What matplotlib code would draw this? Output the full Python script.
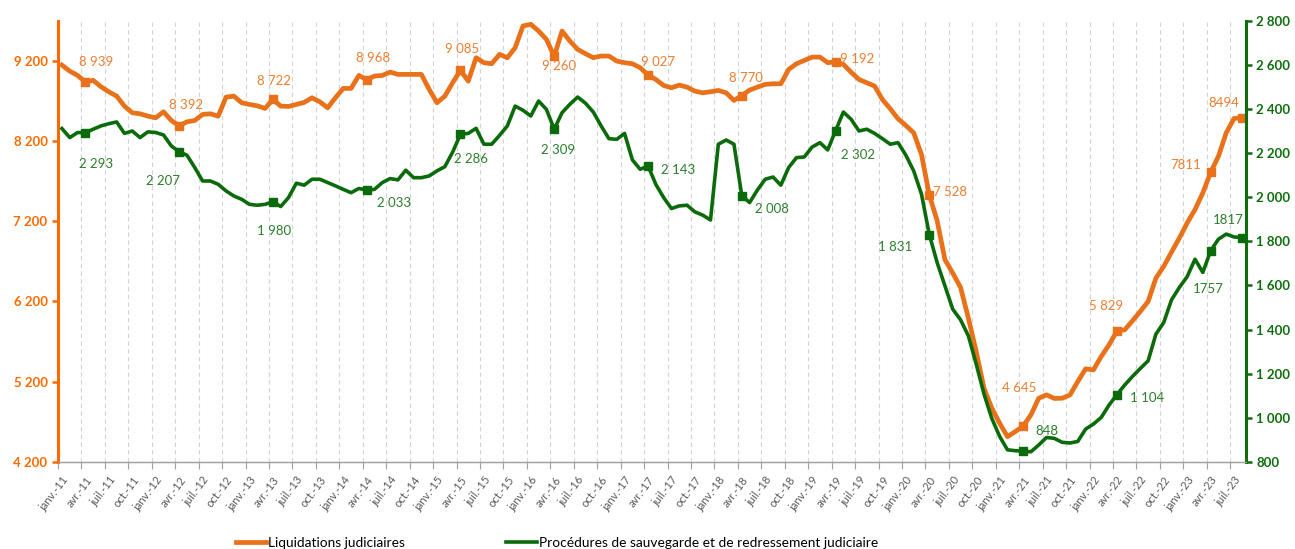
import numpy as np
import matplotlib
matplotlib.use('Agg')
import matplotlib.pyplot as plt
from matplotlib.ticker import FuncFormatter

plt.rcParams['font.family'] = ['Lato', 'DejaVu Sans']

# monthly series, janv.-11 to août-23
liquidations = [
    9150, 9075, 9021, 8939, 8960, 8880, 8817, 8763, 8638, 8555,
    8542, 8513, 8492, 8567, 8459, 8392, 8442, 8459, 8534, 8542,
    8513, 8750, 8763, 8680, 8659, 8642, 8609, 8722, 8638, 8634,
    8659, 8684, 8742, 8692, 8617, 8742, 8859, 8859, 9021, 8968,
    9013, 9021, 9063, 9034, 9034, 9034, 9034, 8846, 8680, 8763,
    8930, 9085, 8950, 9242, 9180, 9167, 9284, 9242, 9367, 9638,
    9659, 9575, 9471, 9260, 9575, 9450, 9346, 9292, 9242, 9263,
    9263, 9200, 9180, 9167, 9117, 9027, 8971, 8896, 8867, 8900,
    8875, 8825, 8804, 8817, 8834, 8804, 8709, 8770, 8838, 8875,
    8909, 8917, 8917, 9096, 9167, 9209, 9250, 9250, 9180, 9192,
    9159, 9060, 8971, 8930, 8888, 8721, 8605, 8480, 8396, 8305,
    8034, 7528, 7209, 6721, 6554, 6375, 5992, 5575, 5117, 4867,
    4680, 4513, 4575, 4645, 4784, 4992, 5034, 4990, 4992, 5034,
    5200, 5359, 5346, 5513, 5659, 5829, 5846, 5959, 6075, 6200,
    6492, 6638, 6817, 6992, 7180, 7346, 7555, 7811, 8013, 8305,
    8484, 8494]

sauvegarde = [
    2312, 2271, 2294, 2293, 2309, 2324, 2334, 2342, 2290, 2301,
    2271, 2297, 2294, 2283, 2233, 2207, 2191, 2135, 2074, 2074,
    2059, 2029, 2006, 1991, 1968, 1964, 1968, 1980, 1958, 1999,
    2064, 2055, 2082, 2082, 2067, 2052, 2036, 2021, 2040, 2033,
    2036, 2067, 2085, 2079, 2123, 2089, 2089, 2097, 2120, 2139,
    2205, 2286, 2290, 2313, 2241, 2241, 2281, 2324, 2414, 2395,
    2369, 2437, 2399, 2309, 2384, 2422, 2455, 2427, 2387, 2324,
    2266, 2263, 2290, 2170, 2127, 2143, 2059, 1999, 1949, 1961,
    1964, 1934, 1919, 1897, 2241, 2260, 2241, 2008, 1976, 2033,
    2082, 2092, 2055, 2135, 2180, 2183, 2228, 2248, 2215, 2302,
    2387, 2354, 2301, 2309, 2290, 2266, 2241, 2248, 2191, 2120,
    2014, 1831, 1704, 1598, 1492, 1444, 1371, 1243, 1107, 996,
    915, 854, 850, 848, 845, 876, 910, 906, 888, 885,
    892, 948, 971, 1001, 1057, 1104, 1148, 1187, 1223, 1258,
    1379, 1432, 1535, 1591, 1640, 1719, 1659, 1757, 1810, 1833,
    1820, 1817]

# labelled points (index in the monthly series)
label_idx = [3, 15, 27, 39, 51, 63, 75, 87, 99, 111, 123, 135, 147, 151]
liq_labels = ["8 939", "8 392", "8 722", "8 968", "9 085", "9 260", "9 027",
              "8 770", "9 192", "7 528", "4 645", "5 829", "7811", "8494"]
sauv_labels = ["2 293", "2 207", "1 980", "2 033", "2 286", "2 309", "2 143",
               "2 008", "2 302", "1 831", "848", "1 104", "1757", "1817"]

mois = ['janv.', 'avr.', 'juil.', 'oct.']
annees = list(range(11, 24))
tick_labels = [f"{m}-{a}" for a in annees for m in mois][:51]

# label offsets in pixels (dx, dy)
liq_off = [(11, 20), (7, 21), (1, 18), (6, 22), (2, 21), (5, -10), (10, 13),
           (4, 18), (22, 3), (21, 3), (-4, 38), (-11, 25), (-25, 7), (-18, 15)]
sauv_off = [(11, -31), (-16, -29), (1, -29), (27, -13), (11, -25), (4, -21), (30, -4),
            (30, -13), (22, -24), (-34, -12), (24, 20), (30, -3), (-2, -38), (-14, 18)]

c_orange = '#E8711A'
c_orange_lab = '#EE7E32'
c_orange_ax = '#FF6A00'
c_green = '#0B6B0B'
c_green_lab = '#2C7F2C'
c_green_ax = '#0E6E0E'

x = np.arange(len(liquidations))

fig = plt.figure(figsize=(12.95, 5.49), dpi=100)
ax = fig.add_axes([0.0448, 0.159, 0.9172, 0.8027])
ax2 = ax.twinx()

l1, = ax.plot(x, liquidations, color=c_orange, lw=3.4, solid_joinstyle='round',
              label='Liquidations judiciaires', zorder=3)
ax.plot(x[label_idx], np.array(liquidations)[label_idx], 's', color=c_orange,
        ms=5.5, zorder=4)
l2, = ax2.plot(x, sauvegarde, color=c_green, lw=2.6, solid_joinstyle='round',
               label='Procédures de sauvegarde et de redressement judiciaire', zorder=3)
ax2.plot(x[label_idx], np.array(sauvegarde)[label_idx], 's', color=c_green,
         ms=5.5, zorder=4)

for i, t, (dx, dy) in zip(label_idx, liq_labels, liq_off):
    ax.annotate(t, (x[i], liquidations[i]), xytext=(dx, dy), textcoords='offset pixels',
                ha='center', va='center', fontsize=9.5, color=c_orange_lab)
for i, t, (dx, dy) in zip(label_idx, sauv_labels, sauv_off):
    ax2.annotate(t, (x[i], sauvegarde[i]), xytext=(dx, dy), textcoords='offset pixels',
                 ha='center', va='center', fontsize=9.5, color=c_green_lab)

ax.set_xlim(-0.5, len(x) - 0.5)
ax.set_ylim(4200, 9700)
ax2.set_ylim(800, 2800)

fmt = FuncFormatter(lambda v, p: f"{int(v):,}".replace(",", " "))
ax.set_yticks(np.arange(4200, 9201, 1000))
ax.yaxis.set_major_formatter(fmt)
ax2.set_yticks(np.arange(800, 2801, 200))
ax2.yaxis.set_major_formatter(fmt)

# x: tick marks / gridlines between categories, labels on categories
ax.set_xticks(np.arange(-0.5, len(x), 3))
ax.set_xticklabels([])
ax.set_xticks(np.arange(0, len(x), 3), minor=True)
ax.set_xticklabels(tick_labels, minor=True, rotation=53, ha='right',
                   rotation_mode='anchor', fontsize=8, color='#595959')
ax.tick_params(axis='x', which='major', length=5, color='#A0A0A0', width=0.8)
ax.tick_params(axis='x', which='minor', length=0, pad=9)
ax.grid(axis='x', which='major', color='#D3D3D3', ls=(0, (4, 3)), lw=0.8)
ax.set_axisbelow(True)

ax.tick_params(axis='y', colors=c_orange_ax, labelcolor=c_orange_ax, length=4, width=1.8,
               labelsize=9.5)
for lab in ax.get_yticklabels():
    lab.set_fontweight('bold')
ax2.tick_params(axis='y', colors=c_green_ax, labelcolor=c_green_ax, length=4, width=1.8,
                labelsize=9.5)
for lab in ax2.get_yticklabels():
    lab.set_fontweight('bold')

for a in (ax, ax2):
    a.spines['top'].set_visible(False)
    a.spines['bottom'].set_color('#A0A0A0')
    a.spines['bottom'].set_linewidth(0.9)
ax.spines['left'].set_color(c_orange_ax)
ax.spines['left'].set_linewidth(2.2)
ax.spines['right'].set_visible(False)
ax2.spines['left'].set_visible(False)
ax2.spines['right'].set_color(c_green_ax)
ax2.spines['right'].set_linewidth(2.2)

fig.legend([l1, l2], [l1.get_label(), l2.get_label()], loc='center left',
           bbox_to_anchor=(236 / 1295, 6 / 549), ncol=2, frameon=False,
           fontsize=9.9, handlelength=2.2, handletextpad=0.15, columnspacing=7.35,
           borderpad=0, borderaxespad=0)

fig.savefig('out.png', dpi=100)
